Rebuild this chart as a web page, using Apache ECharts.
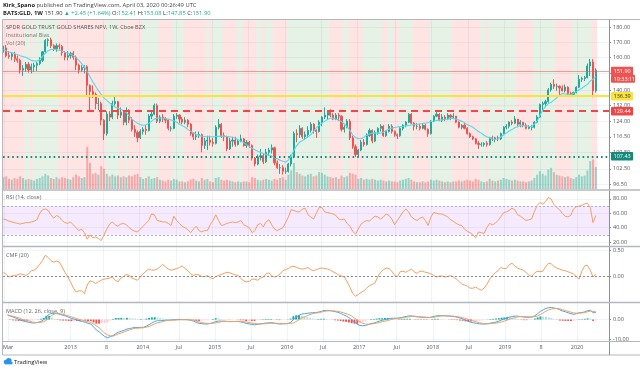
<!DOCTYPE html>
<html><head><meta charset="utf-8">
<script src="https://cdn.jsdelivr.net/npm/echarts@6/dist/echarts.min.js"></script>
<style>html,body{margin:0;padding:0;background:#fff}#c{width:640px;height:370px}</style>
</head><body><div id="c"></div>
<script>
// ---- data: bi-weekly bars of GLD, first bar ending 2012-02-17 ----
const FIRST_BAR = '2012-02-17';
const BAR_DAYS = 14;
const OPEN = [
164.5,166,161,160.5,162,159,158,152,153,155.5,
152,154,155,156,158,163.5,171,171.5,167.5,165.5,
167.5,167,163,160,161,162.5,160,155,152,153.5,
154,143,139.5,138,133,133,124.5,118,127.5,126,
133,134,127,128.5,123.5,129.5,124.5,120,118.5,116,
119,120,119.5,126.5,127.5,132,124,126,125,124.5,
120.5,120.5,126.5,127,125,123.5,124.5,122.5,118,116.5,
117,117.5,112.5,114.5,115,114,113.5,121,122.5,117,
116.5,111,114.5,115,113,114.5,115.5,112.5,114,112.5,
107,104.5,107.5,108,105.5,109.5,110.5,111.5,105,103,
103,101.5,101.5,104.5,107.5,118,117.5,120.5,116.5,117.5,
119.5,122.5,119.5,119,123.5,126,127,128.5,127,125,
127,126.5,120,121,124,116,112,108.5,110.5,114,
113,117,119.5,114.5,118.5,120.5,121.5,117,119,121.5,
119,117.5,117,120.5,122,123.5,127.5,123,121.5,121.5,
120.5,122,120,118,124,126.5,127.5,124.5,126,125,
127,126,126.5,123.5,121,122,120.5,118,116.5,115.5,
113.5,113,113,113.5,113,116,115.5,116,115.5,118,
121,121.5,123.5,123,125,122.5,123.5,122,120.5,121,
121,123.5,126,132.5,133,134,140.5,143.5,142.5,142.5,
141.5,140,142,138.5,138,139,142,146.5,147,147.5,
154.5,157,140];
const HIGH = [
167.5,168,164,163,163.5,161,159,155,157,157,
156,156.5,157,160,164,172,172.5,173,168.5,169,
169,168,164,164,163.5,164,161,156,155,155,
155,143.5,143,139,136,134,125,129,129,134.5,
137,134.5,131,129.5,131,130,126,122,119.5,120,
121,122,127.5,129,133,133,127,127.5,126,125,
121.5,127.5,128,127.5,126,126,125,123,118.5,119,
119,118,116,117,117,116,122,125,123,118.5,
117,116,116.5,116.5,115.5,117.5,116,115,114.5,113,
107.5,108.5,111,109,111,111.5,113,112,106,104.5,
104,103,105,108.5,119,120,122,121,119,121.5,
123.5,123,120,124.5,126.5,131,129,130,128,128,
128,127,122,125,125,117,113,111,115,115.5,
118,120.5,120,119.5,121,122.5,122,119.5,122.5,122.5,
119.5,118,121,122.5,124,128,128,123.5,123,122.5,
123,122.5,120.5,124.5,127,129.5,128,127.5,127,128,
127.5,128,126.5,124,122.5,123,121,118.5,117,116,
114.5,114,114,114.5,116.5,117,116.5,117,118.5,121.5,
122.5,124,124.5,126.5,125,124.5,123.5,123,122,122,
124,127,133,134,135,141.5,144.5,146.5,144,143,
143,143.5,142.5,139.5,139.5,142.5,149,148,148.5,156,
159,158.8,153.08];
const LOW = [
163,160,159,158,157,156.5,150,148.5,151,150.5,
150,151,151.5,155,157,163,167,166,164,163.5,
165,161,158,158,159,158.5,152,150,151,150,
137,129.5,136,130,129.5,122,115,117,124,125,
132,125,125.5,122,122,123,119,116.5,114,115.5,
117.5,117.5,119,125,127,123,123,123.5,123,119.5,
119,120,125,123,122.5,122.5,121,117,115,115,
116,109.5,111,110.5,112.5,112,113,120,116,114.5,
110,110.5,112,112,112.5,114,112,111.5,111.5,106,
103.5,104,106,104.5,105,108,109,104,102.5,100.5,
100.2,100.5,101,103.5,107,114,116,115.5,115,116,
118.5,118,116,118.5,121.5,125,125,126,124.5,124.5,
124,119,118.5,120.5,115,111,107.5,107.5,110,112,
112.5,116.5,113.5,114,117.5,119,116.5,116.5,118.5,118,
116.5,115.5,116.5,119.5,121,123,122.5,119.5,120,119.5,
120,119.5,116.5,117.5,123.5,126,124,123.5,124,124.5,
124.5,125,123,120.5,120,120,117.5,116,115,113,
111,112,112,112,112.5,114.5,114,114.5,115,117.5,
120,120.5,122,122.5,121,121,121,120,120,119.5,
120.5,123,125.5,129.5,131,133.5,139.5,141,140,137,
139.5,139,136.5,137,137,138.5,141.5,145,145.5,147,
148.5,136.39,139];
const CLOSE = [
166,161,160.5,162,159,158,152,153,155.5,152,
154,155,156,158,163.5,171,171.5,167.5,165.5,167.5,
167,163,160,161,162.5,160,155,152,153.5,154,
143,139.5,138,133,133,124.5,118,127.5,126,133,
134,127,128.5,123.5,129.5,124.5,120,118.5,116,119,
120,119.5,126.5,127.5,132,124,126,125,124.5,120.5,
120.5,126.5,127,125,123.5,124.5,122.5,118,116.5,117,
117.5,112.5,114.5,115,114,113.5,121,122.5,117,116.5,
111,114.5,115,113,114.5,115.5,112.5,114,112.5,107,
104.5,107.5,108,105.5,109.5,110.5,111.5,105,103,103,
101.5,101.5,104.5,107.5,118,117.5,120.5,116.5,117.5,119.5,
122.5,119.5,119,123.5,126,127,128.5,127,125,127,
126.5,120,121,124,116,112,108.5,110.5,114,113,
117,119.5,114.5,118.5,120.5,121.5,117,119,121.5,119,
117.5,117,120.5,122,123.5,127.5,123,121.5,121.5,120.5,
122,120,118,124,126.5,127.5,124.5,126,125,127,
126,126.5,123.5,121,122,120.5,118,116.5,115.5,113.5,
113,113,113.5,113,116,115.5,116,115.5,118,121,
121.5,123.5,123,125,122.5,123.5,122,120.5,121,121,
123.5,126,132.5,133,134,140.5,143.5,142.5,142.5,141.5,
140,142,138.5,138,139,142,146.5,147,147.5,154.5,
157,140,151.9];
const VOLUME = [
28,30,24,22,26,24,30,26,22,24,
22,20,24,26,30,36,32,26,24,28,
24,28,26,24,22,28,34,30,26,28,
100,62,36,38,34,54,48,36,30,34,
30,32,28,30,28,32,30,34,36,28,
24,26,30,24,26,28,22,20,18,22,
20,24,22,18,18,16,18,22,24,20,
18,26,22,24,18,16,26,28,22,20,
22,20,18,16,18,16,18,18,16,28,
26,22,20,22,24,22,20,24,22,26,
28,22,34,44,62,40,36,32,30,34,
36,30,32,40,38,34,30,28,26,28,
24,32,28,30,38,36,34,24,26,22,
24,22,24,22,20,22,20,18,20,18,
18,16,20,22,24,26,22,18,16,16,
18,16,18,22,20,22,20,18,16,18,
16,18,18,20,18,20,22,20,18,24,
22,18,16,18,24,20,18,20,22,26,
24,22,20,22,20,18,18,16,18,20,
26,34,42,36,32,46,50,40,34,32,
30,28,30,26,24,28,34,30,32,44,
66,70,52];
const MA = [
165,164,163.3,163,162.2,161.7,161,160.5,160,159,
158,157.7,157.5,158.5,160.5,162.5,164.2,165,165.2,164.8,
164.5,164,163.2,162.7,162,161,159.8,158,156,154,
151,148,145,142.5,140,138,136.1,134.7,133.4,132.2,
131.2,130.6,130,129.3,128.3,126.6,125,123.9,123,122.3,
122,122.2,122.9,124,125,125.5,125.5,125.4,125.2,125,
124.6,124.2,123.5,122.5,121.8,121,120,119.1,118.4,117.7,
117.1,116.8,116.6,116.5,116.5,116.5,116.6,116.7,116.8,116.7,
116.6,116.5,116.3,115.8,115.1,114.5,113.8,112.9,112.1,111.3,
110.6,110,109.5,109,108.6,108.2,107.9,107.3,106.7,106.1,
105.7,105.3,106.2,108,110.5,112.5,114,114.8,115.6,116.5,
117.5,119,120.8,122,123,124,124.8,125.4,125.5,125.1,
124.5,123.8,122.6,121.2,119.5,117.3,116.2,115.6,115.6,116.3,
117.3,117.8,118.2,118.2,118.2,118.2,118.7,119.5,120.2,120.6,
120.9,121.1,121.3,121.5,121.7,121.9,122.1,122.3,122.5,122.7,
122.8,123,123.3,123.8,124.1,124.3,124.5,124.7,124.9,125,
125.3,125.3,125,124.5,124,123.2,122.3,121.7,121,120,
119,118.2,117.2,116.5,115.9,115.5,115.3,115.5,116.5,117.3,
118.3,119.2,120,120.8,121.4,121.8,121.8,121.7,121.5,121.4,
122.5,124,127,129.5,131.5,133,133.6,134.8,136.1,137.5,
138.4,138.2,138,137.8,138.5,139.5,140.5,141.4,142.5,143.6,
145.5,146.5,148.1];
// Institutional Bias background: 1 = bullish (green), -1 = bearish (red)
const BIAS = [
-1,-1,-1,-1,-1,-1,-1,-1,1,1,
-1,1,1,1,1,1,1,1,1,1,
-1,-1,-1,-1,-1,-1,-1,-1,-1,-1,
-1,-1,-1,-1,-1,-1,-1,1,1,1,
1,1,-1,-1,1,-1,-1,-1,-1,-1,
1,1,1,1,1,1,-1,-1,-1,-1,
-1,1,1,1,1,-1,-1,-1,-1,-1,
-1,-1,-1,1,-1,1,1,1,1,-1,
-1,-1,-1,-1,1,1,-1,-1,-1,-1,
-1,1,1,-1,1,1,1,-1,-1,-1,
-1,-1,1,1,1,1,1,1,1,1,
1,1,1,1,1,1,1,-1,-1,-1,
-1,-1,1,1,-1,-1,-1,-1,-1,1,
1,1,1,1,1,1,-1,-1,1,1,
-1,-1,1,1,1,1,1,-1,-1,-1,
-1,-1,-1,1,1,1,1,1,1,1,
1,-1,-1,-1,-1,-1,-1,-1,-1,-1,
-1,1,1,-1,1,1,1,1,1,1,
1,1,1,1,-1,-1,-1,-1,-1,-1,
1,1,1,1,1,1,1,1,-1,-1,
-1,-1,-1,-1,1,1,1,1,1,1,
1,-1,-1];
const RSI = [
52,51,49,48,47,46,45,46,47,47,
48,49,51,60,65,66,64,58,53,57,
55,50,47,46,48,44,40,36,38,33,
24,30,26,27,25,22,30,38,45,48,
44,42,45,46,44,40,37,35,34,38,
42,46,50,59,58,50,49,48,48,46,
43,56,50,46,42,40,37,33,38,42,
36,34,36,36,44,50,58,50,43,44,
46,47,48,47,48,50,44,42,40,33,
36,44,46,41,48,51,44,38,36,38,
40,47,55,65,64,62,62,66,67,58,
55,52,60,68,68,62,61,60,59,57,
52,51,52,46,42,35,31,38,45,48,
50,49,53,56,55,52,55,59,57,52,
44,50,56,62,66,62,55,52,50,53,
55,50,43,55,61,60,59,59,57,55,
51,49,46,44,43,38,35,33,30,26,
34,33,32,40,46,44,46,50,55,61,
62,64,67,65,58,56,53,50,51,52,
62,71,75,73,76,82,80,72,68,65,
60,56,55,57,66,69,70,71,73,74,
68,47,57];
const CMF = [
0.08,0.04,-0.01,0.01,0.02,0.03,0.05,0.04,0.02,0.05,
0.11,0.12,0.16,0.23,0.30,0.40,0.36,0.30,0.27,0.29,
0.27,0.18,0.08,0.0,-0.10,-0.21,-0.29,-0.27,-0.27,-0.32,
-0.16,-0.08,-0.10,-0.13,-0.10,-0.07,-0.05,-0.04,-0.03,-0.01,
-0.07,-0.10,-0.03,0.0,0.04,0.02,-0.03,-0.05,-0.07,-0.01,
0.05,0.10,0.14,0.12,0.12,0.14,0.18,0.23,0.18,0.14,
0.12,0.13,0.15,0.17,0.20,0.15,0.11,0.05,0.02,0.04,
0.03,0.0,0.0,0.02,-0.02,-0.04,0.0,0.02,0.04,0.06,
0.08,0.07,0.05,0.03,0.02,-0.04,-0.08,-0.10,-0.09,-0.05,
-0.05,-0.07,-0.03,-0.01,0.05,0.07,0.01,-0.01,0.01,0.05,
0.11,0.13,0.15,0.19,0.19,0.17,0.15,0.14,0.15,0.17,
0.13,0.11,0.13,0.15,0.16,0.15,0.14,0.12,0.09,0.06,
0.03,0.01,-0.01,-0.10,-0.20,-0.32,-0.37,-0.34,-0.30,-0.27,
-0.22,-0.17,-0.15,-0.12,0.0,0.08,0.13,0.16,0.15,0.10,
0.02,0.0,0.09,0.10,0.08,0.11,0.14,0.09,0.06,0.10,
0.10,0.08,0.07,0.05,0.02,-0.01,0.01,0.01,-0.01,0.0,
0.02,-0.01,-0.04,-0.09,-0.14,-0.16,-0.18,-0.22,-0.22,-0.20,
-0.23,-0.26,-0.22,-0.15,-0.05,0.02,0.07,0.11,0.17,0.15,
0.15,0.22,0.25,0.20,0.16,0.14,0.12,0.08,0.03,0.0,
0.06,0.10,0.09,0.10,0.18,0.25,0.24,0.19,0.16,0.14,
0.12,0.11,0.09,0.07,0.05,0.0,-0.05,0.10,0.20,0.21,
0.12,-0.01,0.05];
const MACD = [
2.3,1.8,1.3,0.8,0.2,-0.4,-0.9,-1.2,-1.5,-1.8,
-1.7,-1.4,-1.0,-0.2,1.5,2.7,3.2,3.2,3.0,2.6,
2.2,1.8,1.2,0.6,0.2,-0.2,-0.7,-1.0,-1.4,-1.9,
-2.3,-3.8,-5.3,-6.3,-7.5,-8.7,-9.3,-8.8,-8.2,-7.2,
-6.5,-6.0,-5.5,-4.9,-4.6,-4.3,-4.0,-4.1,-4.0,-4.0,
-3.4,-2.6,-1.8,-1.0,-0.6,-0.6,-0.5,-0.3,-0.3,-0.2,
-0.1,0.0,0.1,0.0,0.0,-0.1,-0.4,-0.8,-1.5,-1.9,
-2.1,-2.3,-2.3,-2.0,-1.6,-1.0,-0.8,-0.8,-0.8,-0.9,
-1.1,-1.0,-1.0,-1.0,-1.2,-1.5,-2.0,-2.2,-2.5,-2.7,
-2.5,-2.2,-2.0,-1.8,-1.7,-1.6,-1.8,-2.1,-2.3,-2.2,
-2.1,-2.0,-1.5,0.0,1.2,2.2,2.8,3.0,3.2,3.4,
3.5,3.6,3.8,4.2,4.6,4.7,4.6,4.4,4.1,3.7,
3.2,2.5,1.8,1.0,0.0,-1.3,-2.4,-3.0,-3.2,-3.0,
-2.6,-2.0,-1.8,-1.3,-0.8,-0.4,0.0,0.3,0.6,0.7,
0.7,0.8,1.1,1.4,1.7,1.9,1.8,1.5,1.3,1.2,
1.1,1.0,1.0,1.4,1.7,2.0,2.0,2.0,1.9,1.8,
1.6,1.5,1.2,0.8,0.4,-0.3,-0.9,-1.4,-1.7,-2.0,
-2.2,-2.3,-2.3,-2.1,-1.8,-1.6,-1.3,-0.8,-0.2,0.3,
0.9,1.3,1.6,1.8,1.7,1.5,1.3,1.2,1.2,1.3,
2.0,3.0,4.2,5.0,5.7,6.1,6.2,5.9,5.6,5.0,
4.4,4.0,3.5,3.0,2.7,3.0,3.5,3.6,4.0,4.6,
4.8,3.5,3.6];
const SIGNAL = [
2.3,2.0,1.7,1.3,0.9,0.3,-0.2,-0.5,-0.9,-1.3,
-1.5,-1.5,-1.4,-1.1,-0.4,0.8,2.2,2.9,3.2,3.0,
2.7,2.3,1.9,1.4,0.9,0.5,0.0,-0.4,-0.8,-1.1,
-1.5,-2.3,-3.2,-4.2,-5.6,-7.0,-7.8,-8.3,-8.5,-8.0,
-7.3,-6.9,-6.3,-5.8,-5.3,-4.9,-4.5,-4.4,-4.3,-4.2,
-3.9,-3.5,-2.9,-2.2,-1.7,-1.4,-1.0,-0.6,-0.4,-0.3,
-0.3,-0.2,-0.1,-0.1,-0.1,-0.1,-0.2,-0.4,-0.8,-1.2,
-1.5,-1.8,-2.0,-2.0,-1.9,-1.7,-1.4,-1.1,-1.0,-1.0,
-1.0,-1.0,-1.0,-0.9,-0.9,-1.1,-1.2,-1.5,-1.8,-2.0,
-2.2,-2.3,-2.2,-2.1,-2.0,-1.9,-1.9,-1.9,-2.0,-2.1,
-2.1,-2.1,-2.0,-1.7,-1.0,-0.1,0.8,1.4,2.0,2.6,
3.0,3.3,3.5,3.8,4.2,4.4,4.5,4.5,4.4,4.2,
3.9,3.5,3.0,2.5,1.8,0.8,-0.2,-1.2,-2.0,-2.3,
-2.4,-2.3,-2.1,-1.8,-1.5,-1.1,-0.8,-0.5,-0.1,0.3,
0.5,0.6,0.8,1.0,1.3,1.5,1.7,1.7,1.5,1.4,
1.3,1.2,1.1,1.1,1.3,1.6,1.8,1.9,1.9,1.9,
1.8,1.7,1.5,1.3,1.0,0.6,0.1,-0.4,-0.8,-1.2,
-1.6,-1.9,-2.1,-2.2,-2.1,-2.0,-1.8,-1.5,-1.2,-0.8,
-0.3,0.2,0.7,1.1,1.4,1.6,1.6,1.5,1.4,1.4,
1.5,1.9,2.6,3.5,4.3,5.0,5.4,5.7,5.7,5.5,
5.0,4.7,4.2,3.8,3.4,3.3,3.3,3.4,3.6,4.0,
4.3,4.2,4.0];
const HIST = [
0,-0.2,-0.4,-0.5,-0.7,-0.7,-0.7,-0.7,-0.6,-0.5,
-0.2,0.1,0.4,0.9,1.9,1.9,1.0,0.3,-0.2,-0.4,
-0.5,-0.5,-0.7,-0.8,-0.7,-0.7,-0.7,-0.6,-0.6,-0.8,
-0.8,-1.5,-2.1,-2.1,-1.9,-1.7,-1.5,-0.5,0.3,0.8,
0.8,0.9,0.8,0.9,0.7,0.6,0.5,0.3,0.3,0.2,
0.5,0.9,1.1,1.2,1.1,0.8,0.5,0.3,0.1,0.1,
0.2,0.2,0.2,0.1,0.1,0,-0.2,-0.4,-0.7,-0.7,
-0.6,-0.5,-0.3,0,0.3,0.7,0.6,0.3,0.2,0.1,
-0.1,0,0,-0.1,-0.3,-0.4,-0.8,-0.7,-0.7,-0.7,
-0.3,0.1,0.2,0.3,0.3,0.3,0.1,-0.2,-0.3,-0.1,
0,0.1,0.5,1.7,2.2,2.3,2.0,1.6,1.2,0.8,
0.5,0.3,0.3,0.4,0.4,0.3,0.1,-0.1,-0.3,-0.5,
-0.7,-1.0,-1.2,-1.5,-1.8,-2.1,-2.2,-1.8,-1.2,-0.7,
-0.2,0.3,0.3,0.5,0.7,0.7,0.8,0.8,0.7,0.4,
0.2,0.2,0.3,0.4,0.4,0.4,0.1,-0.2,-0.2,-0.2,
-0.2,-0.2,-0.1,0.3,0.4,0.4,0.2,0.1,0,-0.1,
-0.2,-0.2,-0.3,-0.5,-0.6,-0.9,-1.0,-1.0,-0.9,-0.8,
-0.6,-0.4,-0.2,0.1,0.3,0.4,0.5,0.7,1.0,1.1,
1.2,1.1,0.9,0.7,0.3,-0.1,-0.3,-0.3,-0.2,-0.1,
0.5,1.1,1.6,1.5,1.4,1.1,0.8,0.2,-0.1,-0.5,
-0.6,-0.7,-0.7,-0.8,-0.7,-0.3,0.2,0.2,0.4,0.6,
0.5,-0.7,-0.4];
// axis ticks / labels
const X_TICK_DATES = ['2012-02-20','2012-12-31','2013-07-01','2013-12-30','2014-06-30','2014-12-29','2015-06-29','2015-12-28','2016-06-27','2016-12-26','2017-07-03','2018-01-01','2018-07-02','2018-12-31','2019-07-01','2019-12-30'];
const X_TICK_LABELS = ['Mar','2013','8','2014','Jul','2015','Jul','2016','Jul','2017','Jul','2018','Jul','2019','8','2020'];
const PRICE_TICKS = [180,170,160,150,140,132,124,116.5,109.5,102.5,96.5];
const RSI_TICKS = [20,40,60,80];
const CMF_TICKS = [0,0.5];
const MACD_TICKS = [-10,0];
const LAST_PRICE = 151.90;
const LEVEL_YELLOW = 136.39;
const LEVEL_RED = 129.44;
const LEVEL_TEAL = 107.43;
const COUNTDOWN = '19:33:11';

// ---- build ----
const DAY = 86400000;
const t0 = Date.parse(FIRST_BAR + 'T00:00:00Z');
const T = CLOSE.map((_, i) => t0 + i * BAR_DAYS * DAY);
const ln = Math.log;
const X_MIN = Date.UTC(2012, 1, 15), X_MAX = Date.UTC(2020, 5, 8);
const xTickVals = X_TICK_DATES.map(s => Date.parse(s + 'T00:00:00Z'));
const FONT = '"Open Sans", sans-serif';
const UP = '#26a69a', DN = '#ef5350';
const AX = '#555';

const GRIDS = [
  {left: 3, right: 31, top: 20, height: 169},
  {left: 3, right: 31, top: 191, height: 55},
  {left: 3, right: 31, top: 247, height: 55},
  {left: 3, right: 31, top: 303, height: 38}
];

function xAxis(gi, labels) {
  return {
    type: 'value', gridIndex: gi, min: X_MIN, max: X_MAX,
    axisLine: {show: false},
    axisTick: {show: false, customValues: xTickVals},
    axisLabel: labels ? {
      customValues: xTickVals, color: AX, fontSize: 5.5, fontFamily: FONT, margin: 3,
      formatter: v => { let b = 0; xTickVals.forEach((t, i) => { if (Math.abs(t - v) < Math.abs(xTickVals[b] - v)) b = i; }); return X_TICK_LABELS[b]; }
    } : {show: false},
    splitLine: {show: true, lineStyle: {color: 'rgba(60,80,140,0.07)', width: 1}}
  };
}
function yAxis(gi, min, max, ticks, fmt, tf) {
  const tv = tf ? ticks.map(tf) : ticks;
  return {
    type: 'value', gridIndex: gi, position: 'right', min, max,
    axisLine: {show: true, lineStyle: {color: '#8d9099', width: 1}},
    axisTick: {show: true, length: 2, customValues: tv, lineStyle: {color: '#8d9099'}},
    axisLabel: {customValues: tv, color: AX, fontSize: 5.5, fontFamily: FONT, margin: 4, formatter: fmt},
    splitLine: {show: true, lineStyle: {color: 'rgba(60,80,140,0.07)', width: 1}}
  };
}

// background bands from bias runs
const RED_BG = 'rgba(255,30,30,0.12)', GREEN_BG = 'rgba(20,130,20,0.10)';
const bands = [];
let s = 0;
for (let i = 1; i <= BIAS.length; i++) {
  if (i === BIAS.length || BIAS[i] !== BIAS[s]) {
    bands.push([{xAxis: T[s] - 7 * DAY, itemStyle: {color: BIAS[s] > 0 ? GREEN_BG : RED_BG}}, {xAxis: T[i - 1] + 7 * DAY}]);
    s = i;
  }
}

const candle = T.map((t, i) => [t, ln(OPEN[i]), ln(CLOSE[i]), ln(LOW[i]), ln(HIGH[i])]);
const vol = T.map((t, i) => [t, VOLUME[i]]);
const ma = T.map((t, i) => [t, ln(MA[i])]);
const rsi = T.map((t, i) => [t, RSI[i]]);
const cmf = T.map((t, i) => [t, CMF[i]]);
const macd = T.map((t, i) => [t, MACD[i]]);
const sig = T.map((t, i) => [t, SIGNAL[i]]);
const hist = T.map((t, i) => [t, HIST[i]]);

function boxLabel(text, bg, fg) {
  return {show: true, position: 'end', distance: 2, formatter: text, backgroundColor: bg, color: fg,
    fontSize: 5.5, fontFamily: FONT, padding: [1.5, 2.5, 1, 2.5], borderRadius: 1};
}

const chart = echarts.init(document.getElementById('c'), null, {renderer: 'canvas', width: 640, height: 370});
chart.setOption({
  animation: false,
  backgroundColor: '#fff',
  grid: GRIDS,
  xAxis: [xAxis(0, false), xAxis(1, false), xAxis(2, false), xAxis(3, true)],
  yAxis: [
    yAxis(0, ln(94.6), ln(185.6), PRICE_TICKS, v => Math.exp(v).toFixed(2), ln),
    {type: 'value', gridIndex: 0, min: 0, max: 400, show: false, splitLine: {show: false}},
    yAxis(1, 14.5, 91, RSI_TICKS, v => v.toFixed(2)),
    yAxis(2, -0.48, 0.556, CMF_TICKS, v => v.toFixed(2)),
    yAxis(3, -11, 8.5, MACD_TICKS, v => v.toFixed(2))
  ],
  series: [
    {name: 'bias', type: 'line', xAxisIndex: 0, yAxisIndex: 1, data: [], silent: true,
      markArea: {silent: true, z: 1, data: bands}},
    {name: 'Vol', type: 'bar', xAxisIndex: 0, yAxisIndex: 1, data: vol, barWidth: '72%', z: 2,
      itemStyle: {color: p => CLOSE[p.dataIndex] >= OPEN[p.dataIndex] ? 'rgba(38,166,154,0.42)' : 'rgba(239,83,80,0.42)'}},
    {name: 'GLD', type: 'candlestick', xAxisIndex: 0, yAxisIndex: 0, data: candle, barWidth: 1.6, z: 3,
      itemStyle: {color: UP, color0: DN, borderColor: UP, borderColor0: DN, borderWidth: 1}},
    {name: 'MA', type: 'line', xAxisIndex: 0, yAxisIndex: 0, data: ma, symbol: 'none', z: 4,
      lineStyle: {color: '#52dbeb', width: 1.1}},
    {name: 'levels', type: 'line', xAxisIndex: 0, yAxisIndex: 0, data: [], silent: true,
      markLine: {silent: true, symbol: 'none', z: 6, data: [
        {yAxis: ln(LAST_PRICE), lineStyle: {color: 'rgba(239,83,80,0.55)', width: 1, type: 'solid'}, label: boxLabel(LAST_PRICE.toFixed(2), '#ef5350', '#fff')},
        {yAxis: ln(LEVEL_YELLOW), lineStyle: {color: '#fae33c', width: 2.2, type: 'solid'}, label: boxLabel(LEVEL_YELLOW.toFixed(2), '#fae33c', '#333')},
        {yAxis: ln(LEVEL_RED), lineStyle: {color: '#ef4646', width: 2, type: [7, 5]}, label: boxLabel(LEVEL_RED.toFixed(2), '#ef4646', '#fff')},
        {yAxis: ln(LEVEL_TEAL), lineStyle: {color: '#138a7b', width: 2, type: [1.6, 3]}, label: boxLabel(LEVEL_TEAL.toFixed(2), '#138a7b', '#fff')}
      ]}},
    {name: 'RSI', type: 'line', xAxisIndex: 1, yAxisIndex: 2, data: rsi, symbol: 'none', z: 4,
      lineStyle: {color: '#f5a05c', width: 1},
      markArea: {silent: true, data: [[{yAxis: 30, itemStyle: {color: 'rgba(153,21,255,0.09)'}}, {yAxis: 70}]]},
      markLine: {silent: true, symbol: 'none', label: {show: false},
        lineStyle: {color: '#b6a9c6', width: 1, type: [2, 2]}, data: [{yAxis: 70}, {yAxis: 30}]}},
    {name: 'CMF', type: 'line', xAxisIndex: 2, yAxisIndex: 3, data: cmf, symbol: 'none', z: 4,
      lineStyle: {color: '#f5a05c', width: 1},
      markLine: {silent: true, symbol: 'none', label: {show: false},
        lineStyle: {color: '#8a8d96', width: 1, type: [2, 2]}, data: [{yAxis: 0}]}},
    {name: 'Hist', type: 'bar', xAxisIndex: 3, yAxisIndex: 4, data: hist, barWidth: '70%', z: 2,
      itemStyle: {color: p => {
        const v = HIST[p.dataIndex], pv = p.dataIndex > 0 ? HIST[p.dataIndex - 1] : v;
        return v >= 0 ? (v >= pv ? '#26a69a' : '#b2dfdb') : (v <= pv ? '#ef5350' : '#ffcdd2');
      }}},
    {name: 'MACD', type: 'line', xAxisIndex: 3, yAxisIndex: 4, data: macd, symbol: 'none', z: 4,
      lineStyle: {color: '#42a8f2', width: 1}},
    {name: 'Signal', type: 'line', xAxisIndex: 3, yAxisIndex: 4, data: sig, symbol: 'none', z: 4,
      lineStyle: {color: '#f5a05c', width: 1}}
  ]
});

// ---- frame, titles, legends ----
const axisX = chart.convertToPixel({xAxisIndex: 0}, X_MAX);
const lastY = chart.convertToPixel({yAxisIndex: 0}, ln(LAST_PRICE));
const G = GRIDS;
const top0 = G[0].top, bot = G[3].top + G[3].height, frameBottom = bot + 14;
const line = (x1, y1, x2, y2, c, w) => ({type: 'line', silent: true, z: 20, shape: {x1, y1, x2, y2}, style: {stroke: c, lineWidth: w}});
const txt = (x, y, text, size, fill, extra) => ({type: 'text', silent: true, z: 21, x, y,
  style: Object.assign({text, fill, fontSize: size, fontFamily: FONT, verticalAlign: 'middle'}, extra || {})});
const FR = '#b4b7bf';
chart.setOption({graphic: [
  line(2.5, top0 - 0.5, 640, top0 - 0.5, FR, 1),
  line(2.5, top0 - 0.5, 2.5, frameBottom, FR, 1),
  line(2.5, frameBottom, 640, frameBottom, FR, 1),
  line(axisX + 0.5, top0 - 0.5, axisX + 0.5, frameBottom, '#8d9099', 1),
  line(2.5, G[1].top - 1, 640, G[1].top - 1, FR, 1.6),
  line(2.5, G[2].top - 0.5, 640, G[2].top - 0.5, FR, 1.6),
  line(2.5, G[3].top - 0.5, 640, G[3].top - 0.5, FR, 1.6),
  line(2.5, bot + 0.5, 640, bot + 0.5, FR, 1),
  txt(3, 5, '{b|Kirk_Spano} published on TradingView.com, April 03, 2020 00:26:49 UTC', 5.8, '#444',
    {rich: {b: {fontWeight: 'bold', fill: '#222', fontSize: 5.8, fontFamily: FONT}}}),
  txt(3, 13, '{b|BATS:GLD, 1W} 151.90 {g|\u25B2 +2.45 (+1.64%)} O:{g|152.41} H:{g|153.08} L:{g|147.85} C:{g|151.90}', 5.8, '#333',
    {rich: {b: {fontWeight: 'bold', fill: '#222', fontSize: 5.8, fontFamily: FONT}, g: {fill: '#26a69a', fontSize: 5.8, fontFamily: FONT}}}),
  txt(6, 27, 'SPDR GOLD TRUST GOLD SHARES NPV, 1W, Cboe BZX', 5.6, '#555'),
  txt(6, 35, 'Institutional Bias', 5.6, '#777'),
  txt(6, 43, 'Vol (20)', 5.6, '#777'),
  txt(6, G[1].top + 6, 'RSI (14, close)', 5.6, '#666'),
  txt(6, G[2].top + 8, 'CMF (20)', 5.6, '#666'),
  txt(6, G[3].top + 8, 'MACD (12, 26, close, 9)', 5.6, '#666'),
  {type: 'rect', silent: true, z: 21, shape: {x: axisX + 2, y: lastY + 4.5, width: 24, height: 8, r: 1}, style: {fill: '#ef5350'}},
  txt(axisX + 4.5, lastY + 8.7, COUNTDOWN, 5.5, '#fff'),
  {type: 'circle', silent: true, z: 21, shape: {cx: 6, cy: 362, r: 2.3}, style: {fill: '#2196f3'}},
  {type: 'circle', silent: true, z: 21, shape: {cx: 8.8, cy: 360.8, r: 2.8}, style: {fill: '#2196f3'}},
  {type: 'rect', silent: true, z: 21, shape: {x: 5, y: 362, width: 7.5, height: 2.3}, style: {fill: '#2196f3'}},
  txt(14, 362.5, 'TradingView', 5.8, '#131722')
]});
</script></body></html>
